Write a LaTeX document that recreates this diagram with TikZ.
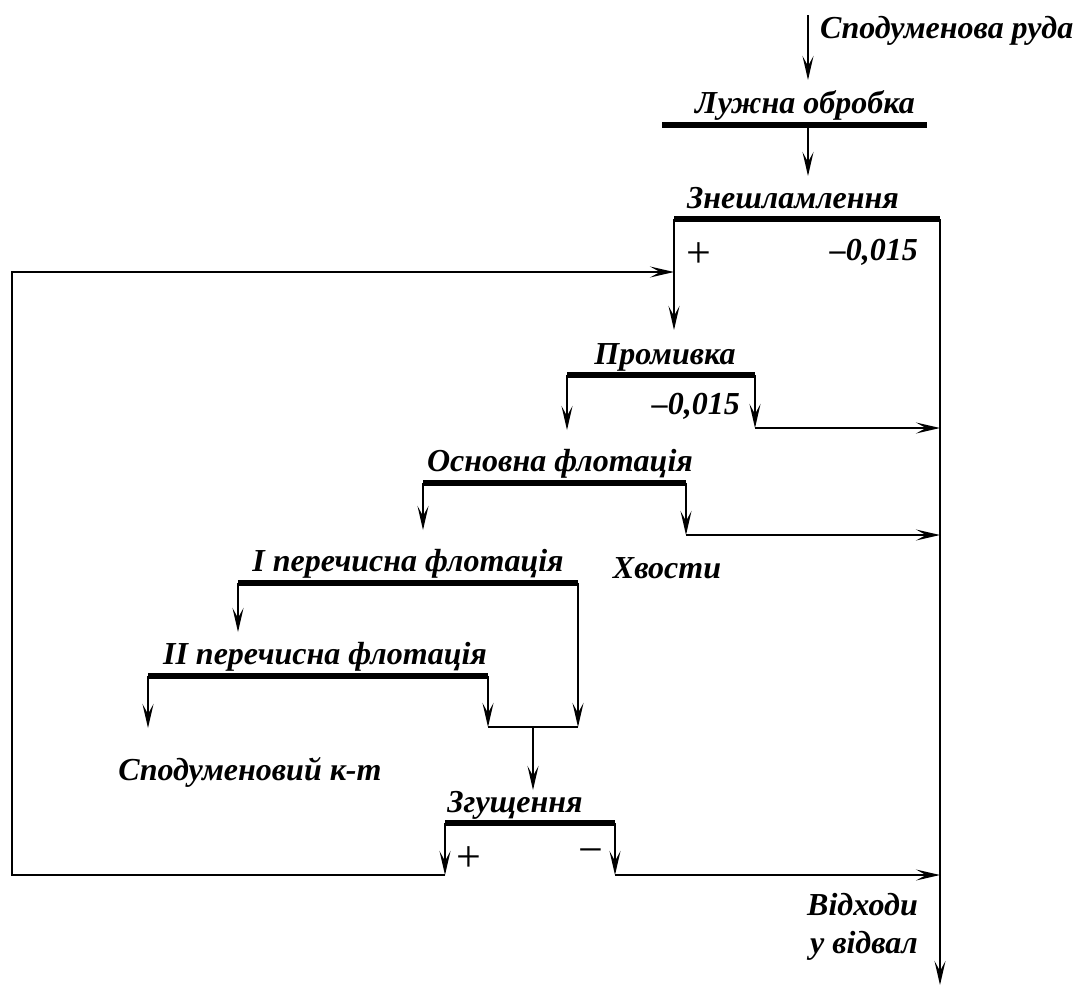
\documentclass[tikz,border=0pt]{standalone}
\usepackage{fontspec}
\setmainfont{Liberation Serif}
\usetikzlibrary{arrows.meta, positioning, calc}
\tikzset{
  bar/.style  ={line width=6pt},
  ln/.style   ={line width=1.8pt},
  flow/.style ={line width=1.8pt, -{Stealth[length=24pt, width=11pt, inset=10pt]}},
  op/.style   ={font=\fontsize{32}{38}\selectfont\bfseries\itshape, inner sep=0pt, anchor=base},
  sgn/.style  ={font=\fontsize{44}{50}\selectfont, inner sep=0pt}
}

\begin{document}
\begin{tikzpicture}[x=1pt, y=-1pt]
\useasboundingbox (0,0) rectangle (1076,989);

% bars of the operations
\coordinate (lu-l) at (662,125);  \coordinate (lu-r) at (927,125);
\coordinate (zn-l) at (674,219);  \coordinate (zn-r) at (940,219);
\coordinate (pr-l) at (567,375);  \coordinate (pr-r) at (755,375);
\coordinate (of-l) at (423,483);  \coordinate (of-r) at (686,483);
\coordinate (p1-l) at (238,583);  \coordinate (p1-r) at (578,583);
\coordinate (p2-l) at (148,676);  \coordinate (p2-r) at (488,676);
\coordinate (zg-l) at (445,823);  \coordinate (zg-r) at (615,823);
\foreach \b in {lu,zn,pr,of,p1,p2,zg}
  \draw[bar] (\b-l) -- (\b-r);

\node[op] (lu) at (805,113) {Лужна обробка};
\node[op] (zn) at (793,208) {Знешламлення};
\node[op] (pr) at (665,364) {Промивка};
\node[op] (of) at (560,471) {Основна флотація};
\node[op] (p1) at (408,571) {I перечисна флотація};
\node[op] (p2) at (325,664) {II перечисна флотація};
\node[op] (zg) at (515,812) {Згущення};

% products
\node[op, anchor=base west] (ore) at (820,38) {Сподуменова руда};
\node[op] (tail) at (667,578) {Хвости};
\node[op] (conc) at (250,780) {Сподуменовий к-т};
\node[op, align=right, anchor=base east] (waste) at (918,953) {Відходи\\у відвал};

\node[sgn] (zn-p) at (699,255) {+};
\node[op, anchor=base east] (zn-m) at (918,260) {–0,015};
\node[op, anchor=base east] (pr-m) at (740,414) {–0,015};
\node[sgn] (zg-p) at (469,859) {+};
\node[sgn] (zg-m) at (591,857) {−};

% points of the flows
\coordinate (feed) at (808,15);
\coordinate (lu-in) at (808,80);
\coordinate (lu-o) at (808,125);
\coordinate (zn-in) at (808,176);
\coordinate (zn-ret) at (674,272);
\coordinate (pr-in) at (674,330);
\coordinate (pr-a) at (567,430);  \coordinate (pr-b) at (755,428);
\coordinate (of-a) at (423,530);  \coordinate (of-b) at (686,535);
\coordinate (p1-a) at (238,632);  \coordinate (p1-b) at (578,727);
\coordinate (p2-a) at (148,728);  \coordinate (p2-b) at (488,727);
\coordinate (jn) at (533,727);
\coordinate (zg-in) at (533,790);
\coordinate (zg-a) at (445,875);  \coordinate (zg-b) at (615,875);
\coordinate (ret) at (12,875);
\coordinate (out) at (940,985);

\draw[flow] (feed) -- (lu-in);
\draw[flow] (lu-o) -- (zn-in);
\draw[flow] (zn-l) -- (pr-in);
\draw[flow] (zn-r) -- (out);
\draw[flow] (pr-l) -- (pr-a);
\draw[flow] (pr-r) -- (pr-b);
\draw[flow] (pr-b) -- (pr-b -| out);
\draw[flow] (of-l) -- (of-a);
\draw[flow] (of-r) -- (of-b);
\draw[flow] (of-b) -- (of-b -| out);
\draw[flow] (p1-l) -- (p1-a);
\draw[flow] (p1-r) -- (p1-b);
\draw[flow] (p2-l) -- (p2-a);
\draw[flow] (p2-r) -- (p2-b);
\draw[ln]   (p2-b) -- (p1-b);
\draw[flow] (jn) -- (zg-in);
\draw[flow] (zg-l) -- (zg-a);
\draw[flow] (zg-r) -- (zg-b);
\draw[flow] (zg-b) -- (zg-b -| out);
\draw[flow] (zg-a) -- (ret) |- (zn-ret);
\end{tikzpicture}
\end{document}
